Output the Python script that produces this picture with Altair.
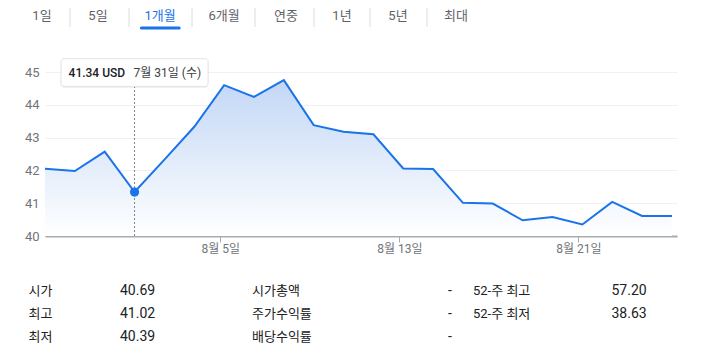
import altair as alt
import pandas as pd

# ---------------- data ----------------
dates = ["2024-07-26", "2024-07-29", "2024-07-30", "2024-07-31", "2024-08-01", "2024-08-02",
         "2024-08-05", "2024-08-06", "2024-08-07", "2024-08-08", "2024-08-09",
         "2024-08-12", "2024-08-13", "2024-08-14", "2024-08-15", "2024-08-16",
         "2024-08-19", "2024-08-20", "2024-08-21", "2024-08-22", "2024-08-23", "2024-08-26"]
closes = [42.05, 41.98, 42.57, 41.34, 42.33, 43.33,
          44.60, 44.24, 44.75, 43.38, 43.18,
          43.10, 42.06, 42.04, 41.01, 40.99,
          40.48, 40.58, 40.35, 41.04, 40.61, 40.61]
currency = "USD"
hover_date = "2024-07-31"
y_ticks = [40, 41, 42, 43, 44, 45]
x_tick_dates = ["2024-08-05", "2024-08-13", "2024-08-21"]

tabs = ["1일", "5일", "1개월", "6개월", "연중", "1년", "5년", "최대"]
active_tab = "1개월"

stat_labels_1 = ["시가", "최고", "최저"]
stat_values_1 = ["40.69", "41.02", "40.39"]
stat_labels_2 = ["시가총액", "주가수익률", "배당수익률"]
stat_values_2 = ["-", "-", "-"]
stat_labels_3 = ["52-주 최고", "52-주 최저"]
stat_values_3 = ["57.20", "38.63"]

# ---------------- styles ----------------
BLUE = "#1a73e8"
GREY_TXT = "#70757a"
DARK = "#202124"
FONT = "Roboto, Noto Sans CJK KR, sans-serif"
W, H = 632, 164

weekdays = "월화수목금토일"
ts = pd.to_datetime(pd.Series(dates))
price = pd.DataFrame({
    "i": range(len(dates)),
    "date": dates,
    "close": closes,
    "price_label": [f"{c:.2f} {currency}" for c in closes],
    "date_label": [f"{d.month}월 {d.day}일 ({weekdays[d.weekday()]})" for d in ts],
})

tick_idx = [dates.index(d) for d in x_tick_dates]
tick_vals = [t - 0.13 for t in tick_idx]
tick_lbls = [f"{pd.Timestamp(d).month}월 {pd.Timestamp(d).day}일" for d in x_tick_dates]
label_expr = ""
for k, (v, l) in enumerate(zip(tick_vals, tick_lbls)):
    if k < len(tick_vals) - 1:
        label_expr += f"datum.value < {v + 0.5} ? '{l}' : "
    else:
        label_expr += f"'{l}'"

x_enc = alt.X("i:Q",
              scale=alt.Scale(domain=[0, 21.17], nice=False, zero=False),
              axis=alt.Axis(values=tick_vals, labelExpr=label_expr, grid=False,
                            domainColor="#a8abae", domainWidth=2, tickColor="#a8abae",
                            tickSize=6, labelColor=GREY_TXT, labelFontSize=12,
                            labelFont=FONT, labelPadding=1, title=None))
y_enc = alt.Y("close:Q",
              scale=alt.Scale(domain=[40, 45], nice=False, zero=False),
              axis=alt.Axis(values=y_ticks, grid=True, gridColor="#f0f1f2", domain=False,
                            ticks=False, labelPadding=6, labelColor=GREY_TXT,
                            labelFontSize=13, labelFont=FONT, title=None))

base = alt.Chart(price)
gradient = alt.Gradient(gradient="linear",
                        stops=[alt.GradientStop(color="#c2d7f6", offset=0),
                               alt.GradientStop(color="#ffffff", offset=1)],
                        x1=1, x2=1, y1=0, y2=1)
area = base.mark_area(color=gradient).encode(x=x_enc, y=y_enc, y2=alt.datum(40))
line = base.mark_line(color=BLUE, strokeWidth=2).encode(x=x_enc, y=y_enc)

hover = base.transform_filter(alt.datum.date == hover_date)
vrule = hover.mark_rule(color="#80868b", strokeDash=[2, 2], strokeWidth=1).encode(
    x=x_enc, y=alt.value(H), y2=alt.value(14.5))
dot = hover.mark_circle(size=85, color=BLUE, opacity=1).encode(x=x_enc, y=y_enc)
shadow = hover.mark_rect(width=148, fill="#000000", opacity=0.06, cornerRadius=4).encode(
    x=x_enc, y=alt.value(-12.5), y2=alt.value(16))
box = hover.mark_rect(width=147, fill="white", stroke="#e3e4e6", strokeWidth=1,
                      cornerRadius=3).encode(x=x_enc, y=alt.value(-13.3), y2=alt.value(14.4))
ptxt = hover.mark_text(align="left", baseline="middle", dx=-66, fontSize=12, fontWeight=500,
                       color=DARK, font=FONT).encode(x=x_enc, y=alt.value(1), text="price_label:N")
dtxt = hover.mark_text(align="left", baseline="middle", dx=-1, fontSize=12,
                       color="#3c4043", font=FONT).encode(x=x_enc, y=alt.value(1), text="date_label:N")

main = alt.layer(area, line, vrule, dot, shadow, box, ptxt, dtxt)

# ---------------- tabs ----------------
tab_df = pd.DataFrame({"i": range(len(tabs)), "tab": tabs})
tab_x = alt.Scale(domain=list(range(len(tabs))), range=[-3, 53, 115, 179, 241, 297, 353, 411])
tbase = alt.Chart(tab_df)
tab_text = tbase.mark_text(baseline="middle", fontSize=13, font=FONT).encode(
    x=alt.X("i:Q", scale=tab_x, axis=None),
    y=alt.value(-56),
    text="tab:N",
    color=alt.condition(alt.datum.tab == active_tab, alt.value(BLUE), alt.value("#5f6368")),
)
seps = tbase.transform_filter(alt.datum.i < len(tabs) - 1).transform_calculate(
    s="datum.i + 0.5").mark_rule(color="#dadce0", strokeWidth=1).encode(
    x=alt.X("s:Q", scale=tab_x, axis=None), y=alt.value(-64), y2=alt.value(-45))
uline = tbase.transform_filter(alt.datum.tab == active_tab).transform_calculate(
    u1="datum.i - 0.3", u2="datum.i + 0.3").mark_rule(
    color=BLUE, strokeWidth=3, strokeCap="round").encode(
    x=alt.X("u1:Q", scale=tab_x, axis=None), x2="u2:Q", y=alt.value(-44))
tabs_layer = alt.layer(seps, tab_text, uline)

# ---------------- stats table ----------------
rows = []
for c, (labs, vals) in enumerate([(stat_labels_1, stat_values_1),
                                  (stat_labels_2, stat_values_2),
                                  (stat_labels_3, stat_values_3)]):
    for r, (l, v) in enumerate(zip(labs, vals)):
        rows.append({"row": r, "lx": 2 * c, "vx": 2 * c + 1, "label": l, "value": v})
stats = pd.DataFrame(rows)
tbl_x = alt.Scale(domain=[0, 1, 2, 3, 4, 5], range=[-16.5, 75, 207, 403, 428, 566.5])
tbl_y = alt.Scale(domain=[0, 2], range=[218.7, 265.4])
sbase = alt.Chart(stats)
slab = sbase.mark_text(align="left", baseline="middle", fontSize=13, color=DARK, font=FONT).encode(
    x=alt.X("lx:Q", scale=tbl_x, axis=None), y=alt.Y("row:Q", scale=tbl_y, axis=None), text="label:N")
sval = sbase.mark_text(align="left", baseline="middle", fontSize=14, color=DARK, font=FONT).encode(
    x=alt.X("vx:Q", scale=tbl_x, axis=None), y=alt.Y("row:Q", scale=tbl_y, axis=None), text="value:N")
table_layer = alt.layer(slab, sval)

chart = alt.layer(main, tabs_layer, table_layer).resolve_scale(
    x="independent", y="independent"
).properties(
    width=W, height=H,
    autosize=alt.AutoSizeParams(type="none"),
    padding={"left": 37, "top": 64, "right": 21, "bottom": 118},
    background="white",
).configure_view(stroke=None)

chart.save("out.html", embed_options={"renderer": "svg", "actions": False})
